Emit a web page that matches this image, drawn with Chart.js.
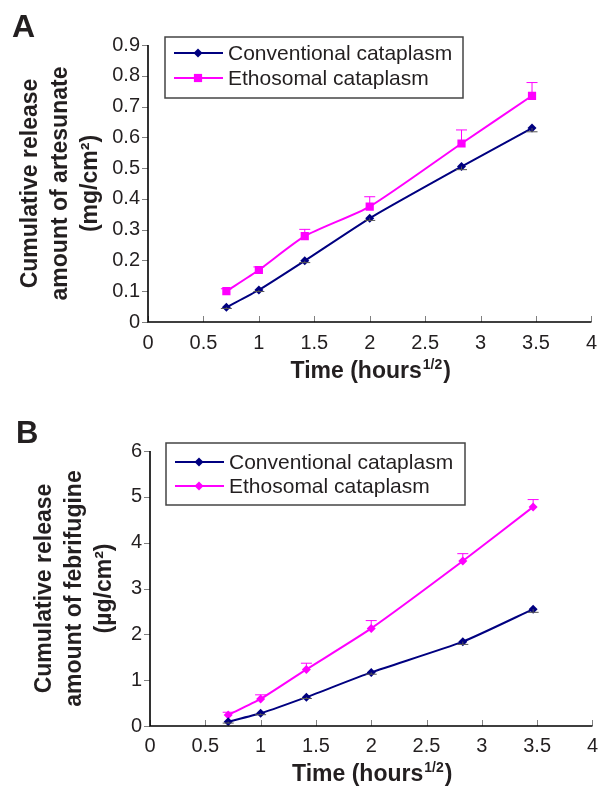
<!DOCTYPE html>
<html>
<head>
<meta charset="utf-8">
<script src="https://cdn.jsdelivr.net/npm/chart.js@4"></script>
<style>
  body { margin: 0; background: #fff; }
  .panel { position: absolute; left: 0; width: 606px; }
</style>
</head>
<body>
<div class="panel" style="top:0;height:393px"><canvas id="chartA"></canvas></div>
<div class="panel" style="top:393px;height:394px"><canvas id="chartB"></canvas></div>
<script>
// time points, sqrt(hours)
let time = [0.707, 1, 1.414, 2, 2.828, 3.464];
let seriesNames = ['Conventional cataplasm', 'Ethosomal cataplasm'];

// A: artesunate (mg/cm2)
let convA = [0.048, 0.104, 0.199, 0.337, 0.505, 0.63];
let convAErr = [0.004, 0.005, 0.006, 0.007, 0.01, 0.012];
let ethoA = [0.1, 0.169, 0.279, 0.375, 0.58, 0.735];
let ethoAErr = [0.008, 0.01, 0.022, 0.032, 0.044, 0.043];

// B: febrifugine (ug/cm2)
let convB = [0.094, 0.277, 0.63, 1.17, 1.84, 2.55];
let convBErr = [0.03, 0.03, 0.03, 0.04, 0.06, 0.07];
let ethoB = [0.24, 0.59, 1.235, 2.13, 3.6, 4.78];
let ethoBErr = [0.06, 0.09, 0.135, 0.17, 0.16, 0.16];

let navy = '#000080';
let pink = '#FF00FF';
let ink = '#231f20';
let fam = "'Liberation Sans', Arial, sans-serif";

function pts(ys) {
  return time.map((t, i) => ({ x: t, y: ys[i] }));
}

function marker(ctx, style, r, x, y, color) {
  ctx.fillStyle = color;
  ctx.beginPath();
  if (style === 'rect') {
    let s = r * Math.SQRT1_2;
    ctx.rect(x - s, y - s, 2 * s, 2 * s);
  } else {
    ctx.moveTo(x, y - r);
    ctx.lineTo(x + r, y);
    ctx.lineTo(x, y + r);
    ctx.lineTo(x - r, y);
    ctx.closePath();
  }
  ctx.fill();
}

let deco = {
  id: 'deco',
  afterDatasetsDraw(chart, args, o) {
    let ctx = chart.ctx;
    let xs = chart.scales.x, ys = chart.scales.y;
    ctx.save();
    chart.data.datasets.forEach(ds => {
      ctx.strokeStyle = ds.errColor;
      ctx.lineWidth = 1;
      ds.data.forEach((p, j) => {
        let x = xs.getPixelForValue(p.x);
        let y0 = ys.getPixelForValue(p.y);
        let y1 = ys.getPixelForValue(p.y + ds.errDir * ds.errors[j]);
        ctx.beginPath();
        ctx.moveTo(x, y0);
        ctx.lineTo(x, y1);
        ctx.moveTo(x - 5.5, y1);
        ctx.lineTo(x + 5.5, y1);
        ctx.stroke();
      });
    });
    ctx.restore();
  },
  afterDraw(chart, args, o) {
    let ctx = chart.ctx;
    let a = chart.chartArea;
    let xs = chart.scales.x, ys = chart.scales.y;
    ctx.save();

    // tick marks: y outside, x inside
    ctx.strokeStyle = '#808080';
    ctx.lineWidth = 1;
    ys.ticks.forEach(t => {
      let y = Math.round(ys.getPixelForValue(t.value)) + 0.5;
      ctx.beginPath();
      ctx.moveTo(a.left - 6, y);
      ctx.lineTo(a.left, y);
      ctx.stroke();
    });
    xs.ticks.forEach(t => {
      let x = Math.round(xs.getPixelForValue(t.value)) + 0.5;
      ctx.beginPath();
      ctx.moveTo(x, a.bottom);
      ctx.lineTo(x, a.bottom - 6);
      ctx.stroke();
    });

    // axis lines
    ctx.strokeStyle = '#000';
    ctx.lineWidth = 1.6;
    ctx.beginPath();
    ctx.moveTo(a.left, a.top);
    ctx.lineTo(a.left, a.bottom);
    ctx.lineTo(a.right, a.bottom);
    ctx.stroke();

    // legend
    let L = o.legend;
    ctx.strokeStyle = '#444';
    ctx.lineWidth = 1.5;
    ctx.strokeRect(L.x, L.y, L.w, L.h);
    ctx.font = '21px ' + fam;
    ctx.textBaseline = 'middle';
    ctx.textAlign = 'left';
    chart.data.datasets.forEach((ds, i) => {
      let y = L.y + L.rows[i];
      ctx.strokeStyle = ds.borderColor;
      ctx.lineWidth = 2;
      ctx.beginPath();
      ctx.moveTo(L.x + 9, y);
      ctx.lineTo(L.x + 58, y);
      ctx.stroke();
      marker(ctx, ds.pointStyle, ds.pointRadius, L.x + 33, y, ds.borderColor);
      ctx.fillStyle = ink;
      ctx.fillText(ds.label, L.x + 63, y + 1);
    });

    // x title with superscript
    let big = 'bold 23px ' + fam, sup = 'bold 14px ' + fam;
    let parts = ['Time (hours', '1/2', ')'];
    ctx.font = big;
    let w0 = ctx.measureText(parts[0]).width, w2 = ctx.measureText(parts[2]).width;
    ctx.font = sup;
    let w1 = ctx.measureText(parts[1]).width;
    let cx = (a.left + a.right) / 2;
    let x0 = cx - (w0 + w1 + w2) / 2;
    ctx.fillStyle = ink;
    ctx.textBaseline = 'alphabetic';
    ctx.font = big;
    ctx.fillText(parts[0], x0, o.titleY);
    ctx.font = sup;
    ctx.fillText(parts[1], x0 + w0 + 1, o.titleY - 9);
    ctx.font = big;
    ctx.fillText(parts[2], x0 + w0 + w1 + 2, o.titleY);

    // panel letter
    ctx.font = 'bold ' + o.letterSize + 'px ' + fam;
    ctx.fillStyle = ink;
    ctx.fillText(o.letter, o.letterX, o.letterY);
    ctx.restore();
  }
};

function makeChart(id, sets, cfg) {
  let ctx = document.getElementById(id).getContext('2d');
  return new Chart(ctx, {
    type: 'line',
    data: { datasets: sets },
    plugins: [deco],
    options: {
      responsive: true,
      maintainAspectRatio: false,
      animation: false,
      layout: { padding: { top: cfg.top, right: cfg.right, left: 0, bottom: 0 } },
      plugins: {
        legend: { display: false },
        tooltip: { enabled: false },
        deco: cfg.deco
      },
      scales: {
        x: {
          type: 'linear',
          min: 0,
          max: 4,
          grid: { display: false, drawTicks: false },
          border: { display: false },
          ticks: {
            stepSize: 0.5,
            padding: cfg.xPad,
            color: ink,
            font: { family: fam, size: 20 },
            maxRotation: 0,
            callback: v => String(v)
          },
          afterFit: s => { s.height = cfg.xHeight; }
        },
        y: {
          min: 0,
          max: cfg.yMax,
          grid: { display: false, drawTicks: false },
          border: { display: false },
          ticks: {
            stepSize: cfg.yStep,
            padding: 8,
            color: ink,
            font: { family: fam, size: 20 },
            callback: v => String(Math.round(v * 10) / 10)
          },
          title: {
            display: true,
            text: cfg.yTitle,
            color: ink,
            font: { family: fam, size: 23, weight: 'bold', lineHeight: 1.32 },
            padding: { top: cfg.titlePad, bottom: 0 }
          },
          afterFit: s => { s.width = cfg.yWidth; }
        }
      }
    }
  });
}

function series(label, ys, errs, dir, color, errColor, style, r) {
  return {
    label: label,
    data: pts(ys),
    errors: errs,
    errDir: dir,
    errColor: errColor,
    borderColor: color,
    backgroundColor: color,
    borderWidth: 2,
    tension: 0.2,
    pointStyle: style,
    pointRadius: r,
    pointBorderWidth: 0,
    pointBackgroundColor: color
  };
}

makeChart('chartA', [
  series(seriesNames[0], convA, convAErr, -1, navy, '#555', 'rectRot', 4.5),
  series(seriesNames[1], ethoA, ethoAErr, 1, pink, pink, 'rect', 5.8)
], {
  top: 45, right: 14, xHeight: 71, xPad: 9, yWidth: 148, yMax: 0.9, yStep: 0.1,
  yTitle: ['Cumulative release', 'amount of artesunate', '(mg/cm²)'], titlePad: 15,
  deco: {
    legend: { x: 165, y: 37, w: 298, h: 61, rows: [16, 41] },
    titleY: 378, letter: 'A', letterX: 12, letterY: 37, letterSize: 32
  }
});

makeChart('chartB', [
  series(seriesNames[0], convB, convBErr, -1, navy, '#555', 'rectRot', 4.5),
  series(seriesNames[1], ethoB, ethoBErr, 1, pink, pink, 'rectRot', 4.5)
], {
  top: 58, right: 5, xHeight: 61, xPad: 8, yWidth: 150, yMax: 6, yStep: 1,
  yTitle: ['Cumulative release', 'amount of febrifugine', '(µg/cm²)'], titlePad: 29,
  deco: {
    legend: { x: 166, y: 50, w: 299, h: 62, rows: [19, 43] },
    titleY: 388, letter: 'B', letterX: 16, letterY: 50, letterSize: 31
  }
});
</script>
</body>
</html>
